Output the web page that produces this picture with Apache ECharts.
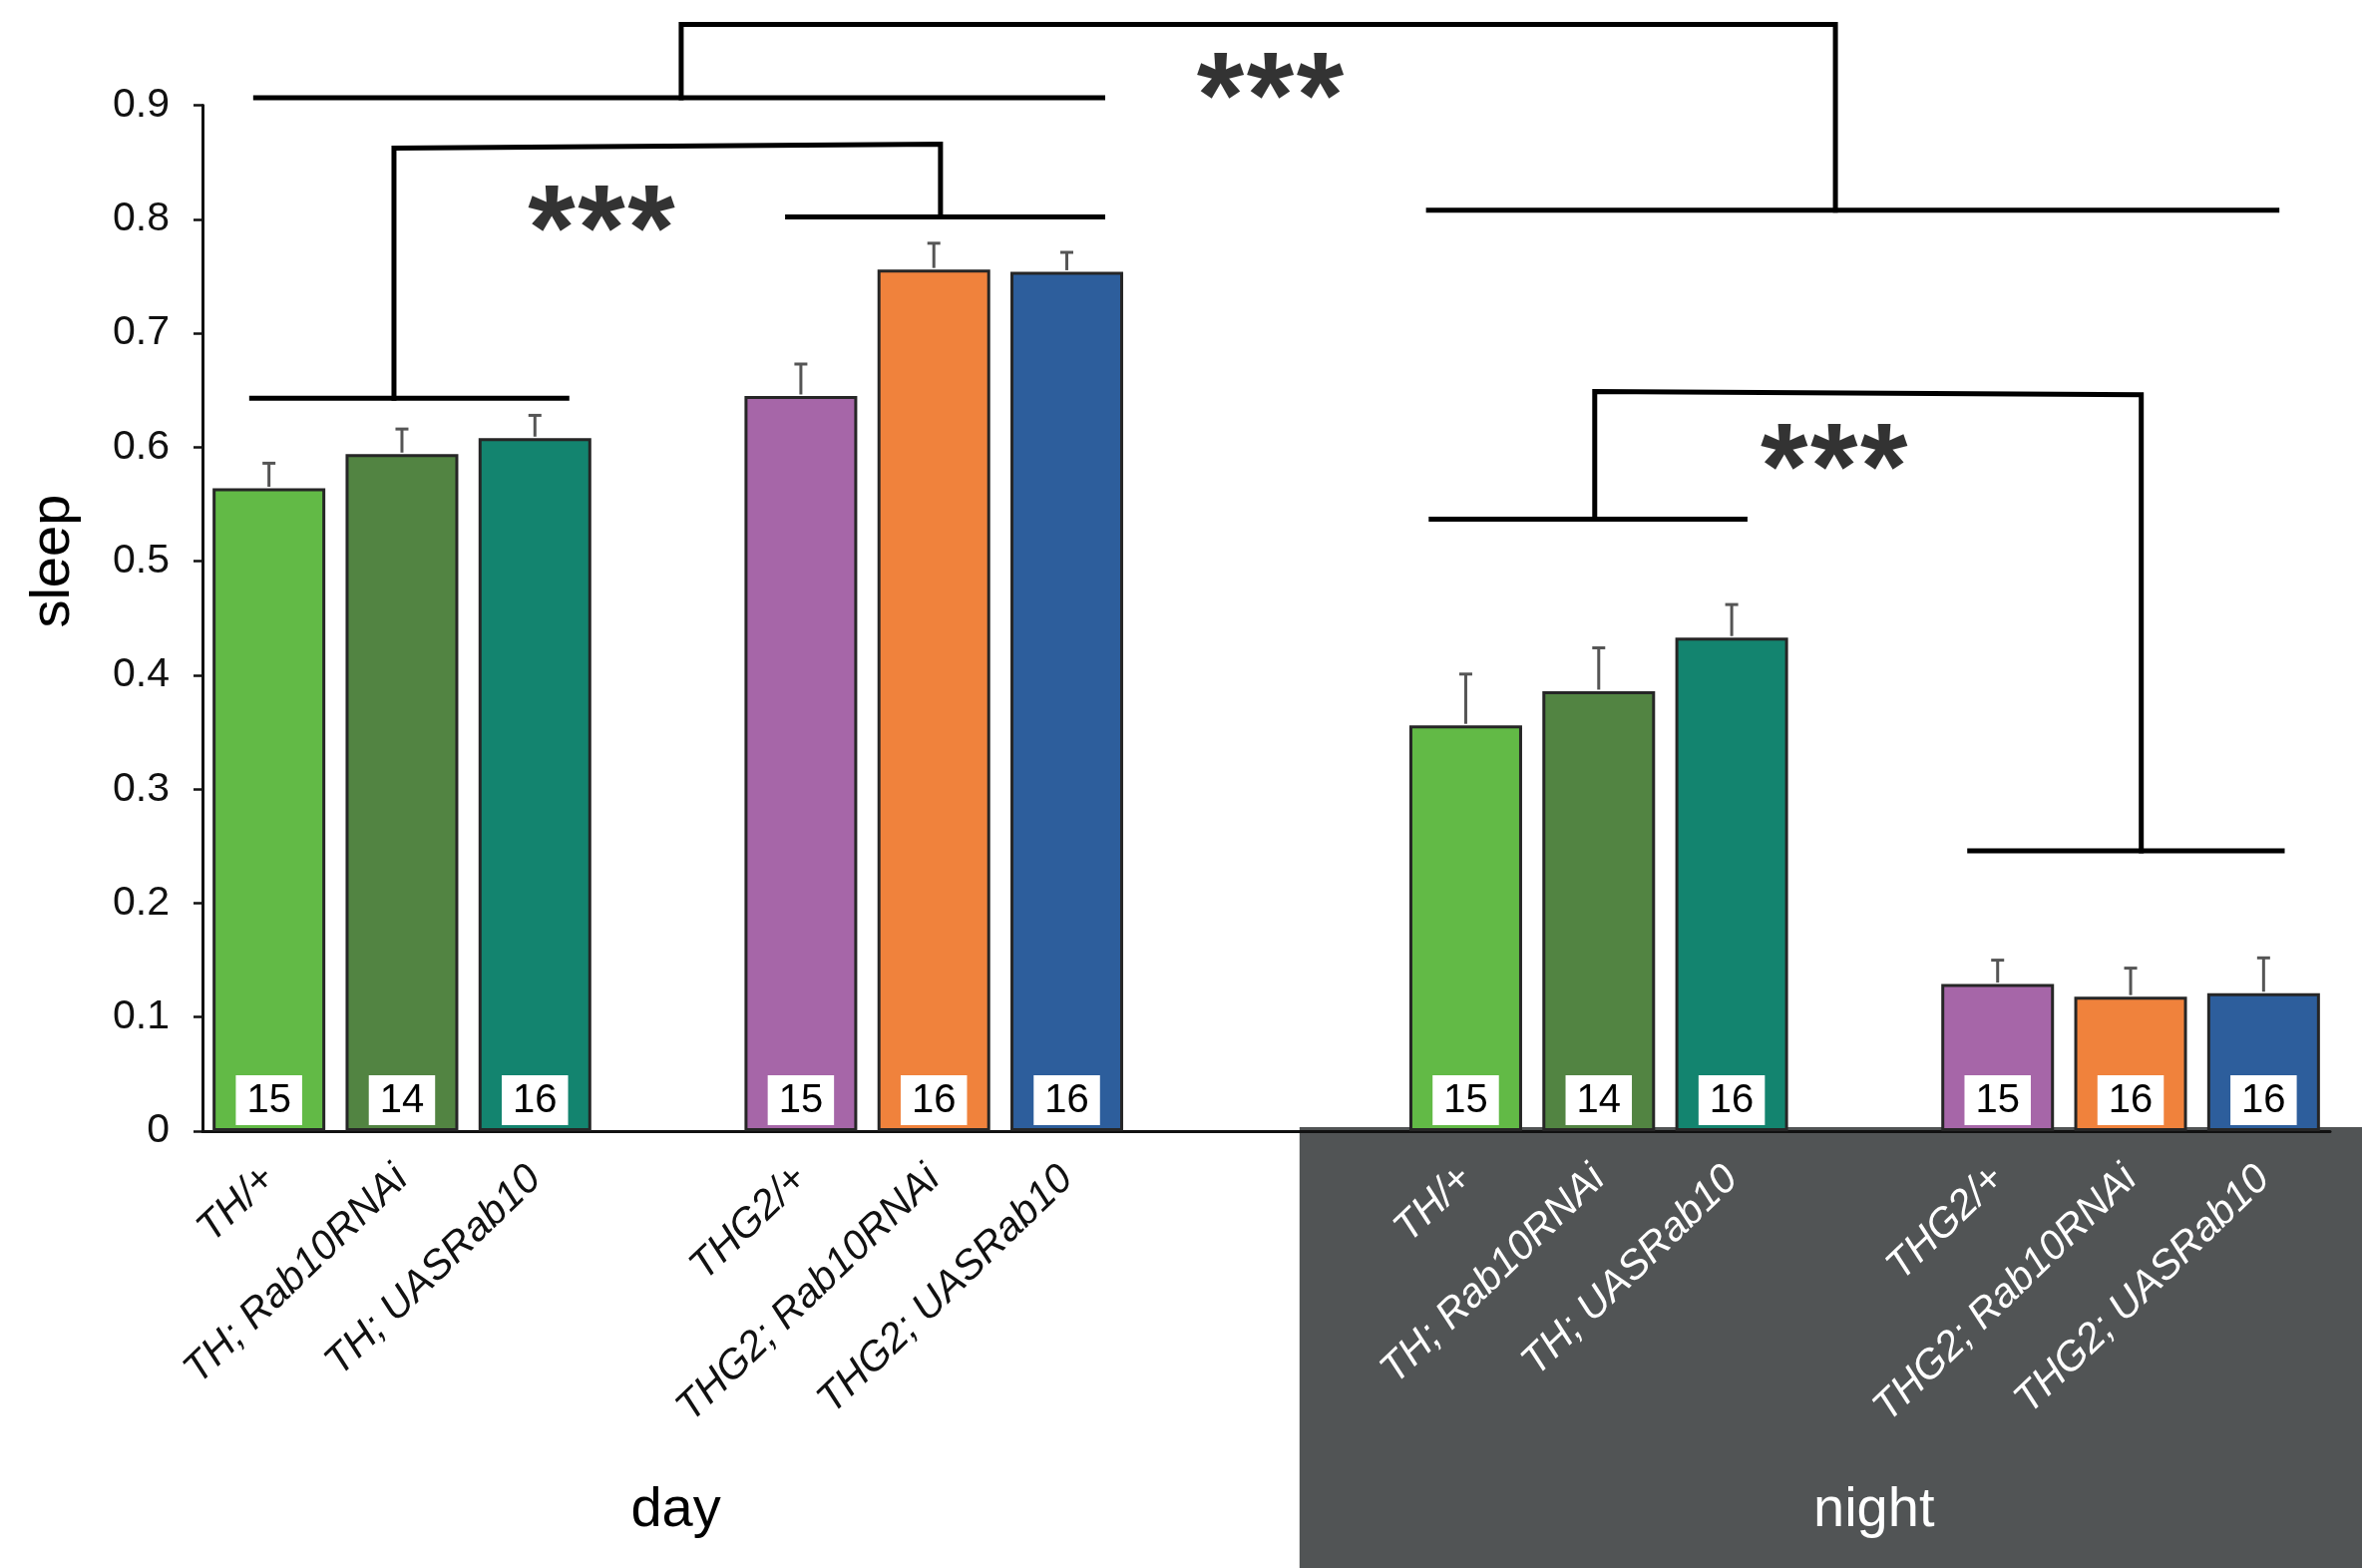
<!DOCTYPE html>
<html>
<head>
<meta charset="utf-8">
<script src="https://cdn.jsdelivr.net/npm/echarts@6/dist/echarts.min.js"></script>
<style>
  html, body { margin: 0; padding: 0; background: #ffffff; }
  #chart { width: 2368px; height: 1572px; }
</style>
</head>
<body>
<div id="chart"></div>
<script>
// Genotypes, in the order they appear within each period
const genotypes = ['TH/+', 'TH; Rab10RNAi', 'TH; UASRab10', 'THG2/+', 'THG2; Rab10RNAi', 'THG2; UASRab10'];

// Mean sleep fraction and SEM, daytime
const daySleep = [0.564, 0.594, 0.608, 0.645, 0.756, 0.754];
const daySem   = [0.022, 0.022, 0.020, 0.028, 0.023, 0.017];
const dayN     = [15, 14, 16, 15, 16, 16];

// Mean sleep fraction and SEM, night-time
const nightSleep = [0.356, 0.386, 0.433, 0.129, 0.118, 0.121];
const nightSem   = [0.045, 0.038, 0.029, 0.021, 0.025, 0.031];
const nightN     = [15, 14, 16, 15, 16, 16];

// Y-axis ticks
const yTicks = [0, 0.1, 0.2, 0.3, 0.4, 0.5, 0.6, 0.7, 0.8, 0.9];

// Period titles
const periodTitles = { day: 'day', night: 'night' };

// Significance brackets as polylines in [slot, sleep] units
const bracketPaths = [
  [[-0.13, 0.643], [2.24, 0.643]],
  [[0.94, 0.643], [0.94, 0.8625], [5.05, 0.866], [5.05, 0.802]],
  [[3.90, 0.802], [6.27, 0.802]],
  [[-0.10, 0.9066], [6.27, 0.9066]],
  [[3.10, 0.9066], [3.10, 0.971], [11.78, 0.971], [11.78, 0.808]],
  [[8.72, 0.808], [15.10, 0.808]],
  [[8.74, 0.537], [11.10, 0.537]],
  [[9.97, 0.537], [9.97, 0.649], [14.08, 0.646], [14.08, 0.246]],
  [[12.79, 0.246], [15.14, 0.246]]
];
const starMarks = [[2.50, 0.812], [7.53, 0.9286], [11.77, 0.603]];

// Bar colours per genotype
const genotypeColors = ['#62BA46', '#528442', '#13846F', '#A666A8', '#F0823C', '#2D5E9C'];

// Slot layout: each genotype trio is separated by spacer slots
const slots = [];
function addTrio(period, start) {
  for (let k = 0; k < 3; k++) slots.push({ period: period, g: start + k });
}
function addGap(n) { for (let k = 0; k < n; k++) slots.push(null); }
addTrio('day', 0); addGap(1); addTrio('day', 3); addGap(2);
addTrio('night', 0); addGap(1); addTrio('night', 3);

const periodData = {
  day: { mean: daySleep, sem: daySem, n: dayN },
  night: { mean: nightSleep, sem: nightSem, n: nightN }
};

const slotIds = slots.map((s, i) => 's' + i);
const barData = slots.map(s => s ? {
  value: periodData[s.period].mean[s.g],
  itemStyle: { color: genotypeColors[s.g] }
} : '-');
const errData = [];
slots.forEach((s, i) => {
  if (!s) return;
  const m = periodData[s.period].mean[s.g];
  errData.push([i, m, m + periodData[s.period].sem[s.g]]);
});

const FONT = "'Liberation Sans', Arial, Helvetica, sans-serif";
const lineSeries = bracketPaths.map(p => ({
  type: 'line',
  xAxisIndex: 1,
  yAxisIndex: 0,
  data: p,
  symbol: 'none',
  silent: true,
  clip: false,
  animation: false,
  z: 5,
  lineStyle: { color: '#000000', width: 5, join: 'miter', cap: 'square' }
}));

const chart = echarts.init(document.getElementById('chart'));
chart.setOption({
  animation: false,
  backgroundColor: '#ffffff',
  grid: { left: 203, right: 32, top: 105.6, bottom: 438, containLabel: false },
  xAxis: [
    {
      type: 'category',
      data: slotIds,
      axisLine: { onZero: false, lineStyle: { color: '#111111', width: 3 } },
      axisTick: { show: false },
      axisLabel: {
        interval: 0,
        rotate: 44,
        margin: 42,
        fontFamily: FONT,
        fontSize: 41,
        fontStyle: 'italic',
        color: '#111111',
        formatter: function (v, i) {
          const s = slots[i];
          if (!s) return '';
          return s.period === 'night' ? '{n|' + genotypes[s.g] + '}' : genotypes[s.g];
        },
        rich: {
          n: { color: '#ffffff', fontFamily: FONT, fontSize: 41, fontStyle: 'italic' }
        }
      }
    },
    { type: 'value', min: -0.5, max: 15.5, show: false }
  ],
  yAxis: {
    type: 'value',
    min: 0,
    max: 0.9,
    interval: 0.1,
    axisLine: { show: true, onZero: false, lineStyle: { color: '#111111', width: 3 } },
    axisTick: { show: true, length: 9, lineStyle: { color: '#111111', width: 2.5 } },
    splitLine: { show: false },
    axisLabel: {
      margin: 33,
      fontFamily: FONT,
      fontSize: 41,
      color: '#111111',
      formatter: v => String(yTicks.find(t => Math.abs(t - v) < 1e-6) ?? v)
    }
  },
  series: [
    {
      type: 'bar',
      data: barData,
      barWidth: 113,
      z: 2,
      itemStyle: { borderColor: '#262626', borderWidth: 3 },
      label: {
        show: true,
        position: 'insideBottom',
        distance: 6,
        fontFamily: FONT,
        fontSize: 40,
        color: '#000000',
        backgroundColor: '#ffffff',
        padding: [6, 11, 4, 11],
        formatter: p => {
          const s = slots[p.dataIndex];
          return s ? String(periodData[s.period].n[s.g]) : '';
        }
      }
    },
    {
      type: 'custom',
      data: errData,
      encode: { x: 0, y: [1, 2] },
      z: 3,
      silent: true,
      renderItem: function (params, api) {
        const base = api.coord([api.value(0), api.value(1)]);
        const top = api.coord([api.value(0), api.value(2)]);
        const half = 6.5;
        const style = { stroke: '#555555', lineWidth: 3 };
        return {
          type: 'group',
          children: [
            { type: 'line', shape: { x1: base[0], y1: base[1] - 1.5, x2: top[0], y2: top[1] }, style: style },
            { type: 'line', shape: { x1: top[0] - half, y1: top[1], x2: top[0] + half, y2: top[1] }, style: style }
          ]
        };
      }
    },
    ...lineSeries,
    {
      type: 'scatter',
      xAxisIndex: 1,
      yAxisIndex: 0,
      data: starMarks,
      symbolSize: 1,
      clip: false,
      silent: true,
      z: 6,
      itemStyle: { color: 'rgba(0,0,0,0)' },
      label: {
        show: true,
        position: 'inside',
        offset: [0, 30],
        formatter: '{s|*}{s|*}{s|*}',
        rich: {
          s: { width: 50, align: 'center', fontFamily: FONT, fontSize: 122, fontWeight: 'bold', color: '#000000' }
        }
      }
    }
  ]
});

// Night panel and titles placed from the axis scales
const px = v => chart.convertToPixel({ xAxisIndex: 1 }, v);
const py = v => chart.convertToPixel({ yAxisIndex: 0 }, v);
const W = chart.getWidth(), H = chart.getHeight();
const zeroY = py(0);
const panelLeft = px(7.75);
chart.setOption({
  graphic: [
    {
      type: 'rect', z: -1, silent: true,
      shape: { x: panelLeft, y: zeroY - 4, width: W - panelLeft, height: H - zeroY + 4 },
      style: { fill: '#515455' }
    },
    {
      type: 'text', z: 10, silent: true,
      x: px(3.06), y: 1515,
      style: { text: periodTitles.day, font: '56px ' + FONT, fill: '#000000', align: 'center', verticalAlign: 'middle' }
    },
    {
      type: 'text', z: 10, silent: true,
      x: px(12.07), y: 1515,
      style: { text: periodTitles.night, font: '56px ' + FONT, fill: '#ffffff', align: 'center', verticalAlign: 'middle' }
    },
    {
      type: 'text', z: 10, silent: true,
      x: 54, y: py(0.5), rotation: Math.PI / 2,
      style: { text: 'sleep', font: '56px ' + FONT, fill: '#000000', align: 'center', verticalAlign: 'middle' }
    }
  ]
});
</script>
</body>
</html>
